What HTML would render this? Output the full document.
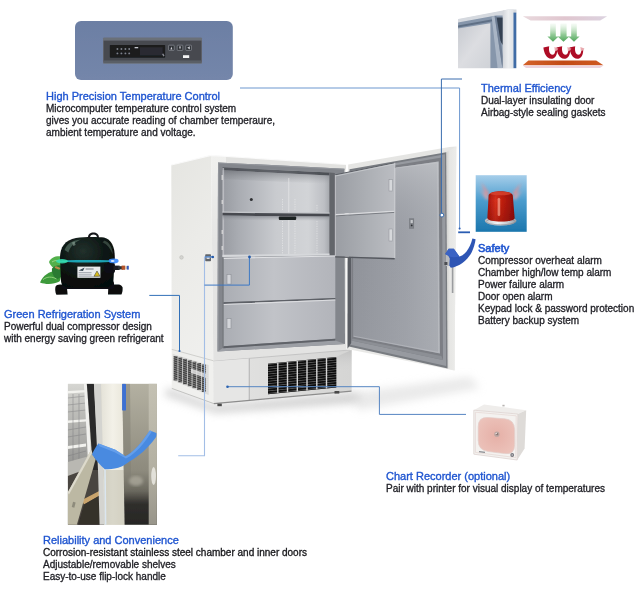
<!DOCTYPE html>
<html>
<head>
<meta charset="utf-8">
<title>Freezer features</title>
<style>
html,body{margin:0;padding:0;background:#fff;}
body{width:640px;height:592px;position:relative;overflow:hidden;font-family:"Liberation Sans",Arial,sans-serif;}
#art{position:absolute;left:0;top:0;width:640px;height:592px;}
.blk{will-change:transform;position:absolute;white-space:nowrap;font-size:10px;line-height:12px;color:#1f1f25;-webkit-text-stroke:0.32px #1f1f25;}
.blk b.sb{-webkit-text-stroke:0.6px #1f55d0;}
.blk b{display:block;font-weight:normal;font-size:11px;line-height:12px;color:#1f55d0;margin-bottom:1px;-webkit-text-stroke:0.35px #1f55d0;}
</style>
</head>
<body>
<svg id="art" width="640" height="592" viewBox="0 0 640 592">
<defs>
<filter id="blur6" x="-20%" y="-50%" width="140%" height="200%"><feGaussianBlur stdDeviation="4"/></filter>
<filter id="soft" x="-5%" y="-5%" width="110%" height="110%"><feGaussianBlur stdDeviation="0.4"/></filter>
<filter id="blur1"><feGaussianBlur stdDeviation="0.6"/></filter>
<filter id="blur2"><feGaussianBlur stdDeviation="1.5"/></filter>
<linearGradient id="gSide" x1="0" y1="0" x2="0.25" y2="1"><stop offset="0" stop-color="#e5e5e1"/><stop offset="0.45" stop-color="#ebebe8"/><stop offset="1" stop-color="#f0f0ee"/></linearGradient>
<linearGradient id="gFront" x1="0" y1="0" x2="0" y2="1"><stop offset="0" stop-color="#f0f0ee"/><stop offset="0.35" stop-color="#e5e5e4"/><stop offset="1" stop-color="#e2e2e1"/></linearGradient>
<linearGradient id="gBase" x1="0" y1="0" x2="1" y2="0"><stop offset="0" stop-color="#e4e4e3"/><stop offset="0.5" stop-color="#dcdcdb"/><stop offset="1" stop-color="#d5d5d4"/></linearGradient>
<linearGradient id="gBack" x1="0" y1="0" x2="1" y2="0"><stop offset="0" stop-color="#989ba1"/><stop offset="0.15" stop-color="#a9acb2"/><stop offset="0.5" stop-color="#c9cbcf"/><stop offset="0.8" stop-color="#d2d4d7"/><stop offset="0.95" stop-color="#bdbfc4"/><stop offset="1" stop-color="#a6a9ae"/></linearGradient>
<linearGradient id="gCeil" x1="0" y1="0" x2="1" y2="0"><stop offset="0" stop-color="#505359"/><stop offset="0.5" stop-color="#5f6268"/><stop offset="1" stop-color="#4c4f55"/></linearGradient>
<linearGradient id="gCeil2" x1="0" y1="0" x2="0" y2="1"><stop offset="0" stop-color="#6e7177" stop-opacity="0.75"/><stop offset="1" stop-color="#9a9da2" stop-opacity="0"/></linearGradient>
<linearGradient id="gUnder" x1="0" y1="0" x2="0" y2="1"><stop offset="0" stop-color="#80838a" stop-opacity="0.8"/><stop offset="1" stop-color="#a0a3a8" stop-opacity="0"/></linearGradient>
<linearGradient id="gDrawer" x1="0" y1="0" x2="1" y2="0"><stop offset="0" stop-color="#aaadb3"/><stop offset="0.45" stop-color="#c1c3c8"/><stop offset="1" stop-color="#b2b4ba"/></linearGradient>
<pattern id="pVent" width="4" height="2.4" patternUnits="userSpaceOnUse" patternTransform="rotate(-5.7)"><rect width="4" height="2.4" fill="#0c0c0c"/><rect y="0" width="4" height="0.7" fill="#8a8a8a"/></pattern>
<pattern id="pSlat" width="4" height="2" patternUnits="userSpaceOnUse" patternTransform="rotate(18.8)"><rect y="0" width="4" height="0.7" fill="#e8e8e8" opacity="0.55"/></pattern>
<linearGradient id="gShell" x1="0" y1="0" x2="0" y2="1"><stop offset="0" stop-color="#e5e5e3"/><stop offset="1" stop-color="#e9e9e7"/></linearGradient>
<linearGradient id="gShellR" x1="0" y1="0" x2="1" y2="0"><stop offset="0" stop-color="#cfcfcd"/><stop offset="0.35" stop-color="#e6e6e4"/><stop offset="1" stop-color="#ececea"/></linearGradient>
<linearGradient id="gPanel" x1="0" y1="0" x2="1" y2="0"><stop offset="0" stop-color="#8f9299"/><stop offset="0.6" stop-color="#9da0a7"/><stop offset="1" stop-color="#abaeb4"/></linearGradient>
<linearGradient id="gPanelV" x1="0" y1="0" x2="0" y2="1"><stop offset="0" stop-color="#c6c8cc" stop-opacity="0.6"/><stop offset="0.4" stop-color="#a0a3a9" stop-opacity="0"/><stop offset="1" stop-color="#a4a7ad" stop-opacity="0.25"/></linearGradient>
<linearGradient id="gInDoor" x1="0" y1="0" x2="1" y2="0"><stop offset="0" stop-color="#9a9da3"/><stop offset="0.6" stop-color="#aeb1b6"/><stop offset="1" stop-color="#bbbdc2"/></linearGradient>
<linearGradient id="gCtrl" x1="0" y1="0" x2="0" y2="1"><stop offset="0" stop-color="#6c7fa4"/><stop offset="1" stop-color="#7486aa"/></linearGradient>
<radialGradient id="gComp" cx="0.42" cy="0.28" r="0.75"><stop offset="0" stop-color="#22312c"/><stop offset="0.5" stop-color="#0f1916"/><stop offset="1" stop-color="#060908"/></radialGradient>
<linearGradient id="gPhotoInt" x1="0" y1="0" x2="0" y2="1"><stop offset="0" stop-color="#d6d6d2"/><stop offset="0.3" stop-color="#bcbcb8"/><stop offset="0.6" stop-color="#a9a9a6"/><stop offset="1" stop-color="#828280"/></linearGradient>
<linearGradient id="gPhotoEdge" x1="0" y1="0" x2="1" y2="0"><stop offset="0" stop-color="#e4e2d8"/><stop offset="0.5" stop-color="#f3f1e8"/><stop offset="1" stop-color="#e9e6da"/></linearGradient>
<linearGradient id="gPhotoDoor" gradientUnits="userSpaceOnUse" x1="0" y1="383" x2="0" y2="525"><stop offset="0" stop-color="#b4b1a2"/><stop offset="0.3" stop-color="#a19e90"/><stop offset="0.62" stop-color="#8d8a7d"/><stop offset="0.76" stop-color="#6b695f"/><stop offset="0.85" stop-color="#302f2c"/><stop offset="1" stop-color="#272624"/></linearGradient>
<linearGradient id="gPhotoStrip" gradientUnits="userSpaceOnUse" x1="0" y1="383" x2="0" y2="525"><stop offset="0" stop-color="#c4c1b3"/><stop offset="0.6" stop-color="#b3b0a2"/><stop offset="1" stop-color="#98958a"/></linearGradient>
<linearGradient id="gPhotoDark" x1="0" y1="0" x2="0.3" y2="1"><stop offset="0" stop-color="#77756a" stop-opacity="0.2"/><stop offset="0.6" stop-color="#46453f" stop-opacity="0.9"/><stop offset="1" stop-color="#2f2f2c"/></linearGradient>
<linearGradient id="gDoorPh" x1="0" y1="0" x2="1" y2="1"><stop offset="0" stop-color="#c6c9cf"/><stop offset="0.5" stop-color="#dcdde1"/><stop offset="1" stop-color="#cfd2d7"/></linearGradient>
<linearGradient id="gDoorPhR" x1="0" y1="0" x2="1" y2="0"><stop offset="0" stop-color="#d3d6db"/><stop offset="0.5" stop-color="#eceef0"/><stop offset="1" stop-color="#dfe2e6"/></linearGradient>
<linearGradient id="gPlateT" x1="0" y1="0" x2="1" y2="0"><stop offset="0" stop-color="#e9d9dd"/><stop offset="0.5" stop-color="#e0c6cf"/><stop offset="1" stop-color="#dcd3e0"/></linearGradient>
<linearGradient id="gPlateB" x1="0" y1="0" x2="1" y2="0"><stop offset="0" stop-color="#d4622a"/><stop offset="0.5" stop-color="#c24a16"/><stop offset="1" stop-color="#cf5a22"/></linearGradient>
<linearGradient id="gArrow" x1="0" y1="0" x2="0" y2="1"><stop offset="0" stop-color="#cfe9cf" stop-opacity="0.2"/><stop offset="0.6" stop-color="#93cb97"/><stop offset="1" stop-color="#4fa65b"/></linearGradient>
<linearGradient id="gAlarmBg" x1="0" y1="0" x2="0" y2="1"><stop offset="0" stop-color="#a6ceea"/><stop offset="0.45" stop-color="#4b9ccd"/><stop offset="1" stop-color="#1b76ad"/></linearGradient>
<linearGradient id="gRed" x1="0" y1="0" x2="1" y2="0"><stop offset="0" stop-color="#a5140c"/><stop offset="0.3" stop-color="#d6301c"/><stop offset="0.55" stop-color="#bf1f0e"/><stop offset="1" stop-color="#8c0d07"/></linearGradient>
<linearGradient id="gSilver" x1="0" y1="0" x2="1" y2="0"><stop offset="0" stop-color="#b9bcc2"/><stop offset="0.4" stop-color="#f4f5f7"/><stop offset="0.7" stop-color="#c9ccd1"/><stop offset="1" stop-color="#9ea2a9"/></linearGradient>
<radialGradient id="gPink" cx="0.5" cy="0.5" r="0.7"><stop offset="0" stop-color="#e6b0a7"/><stop offset="1" stop-color="#edc6be"/></radialGradient>
<linearGradient id="gBaseSh" x1="0" y1="0" x2="0" y2="1"><stop offset="0" stop-color="#bdbdbd" stop-opacity="0.8"/><stop offset="1" stop-color="#d8d8d8" stop-opacity="0"/></linearGradient>
<linearGradient id="gRedV" x1="0" y1="0" x2="0" y2="1"><stop offset="0" stop-color="#7a0a06" stop-opacity="0.25"/><stop offset="0.3" stop-color="#7a0a06" stop-opacity="0"/><stop offset="1" stop-color="#6a0805" stop-opacity="0.3"/></linearGradient>
<!--DEFS-->
</defs>
<!--SHADOW-->
<g id="shadow" filter="url(#blur6)" opacity="0.6">
<polygon points="168,388 214,405 352,392 362,396 356,403 216,413 164,395" fill="#b4b4b4"/>
</g>
<g filter="url(#blur6)" opacity="0.5">
<polygon points="352,393 470,377 480,388 358,410" fill="#d4d4d4"/>
</g>
<g id="body" filter="url(#soft)">
<!-- side panel -->
<polygon points="171.3,165 211,155.3 213.8,403.4 171.8,388.4" fill="url(#gSide)"/>
<!-- front face -->
<polygon points="211,155.3 346,164.5 346.5,349.6 351.5,350 351.5,391 213.8,403.4" fill="url(#gFront)"/>
<polygon points="226,156.4 346,164.5 346,169.2 226,163" fill="#dededc" opacity="0.8"/>
<!-- top highlight -->
<polyline points="171.3,165 211,155.3 346,164.5" fill="none" stroke="#fafafa" stroke-width="1.2"/>
<!-- base -->
<polygon points="213.8,361.3 350,350 351.5,350 351.5,391 213.8,403.4" fill="url(#gBase)"/>
<polyline points="213.8,361.3 350,350" fill="none" stroke="#c4c4c4" stroke-width="1"/>
<polygon points="213.8,361.3 249,358.4 249,400.3 213.8,403.4" fill="#e6e6e5"/>
<line x1="249.3" y1="358.4" x2="249.3" y2="400.7" stroke="#b9b9b9" stroke-width="1.2"/>
<polyline points="171.8,349.4 213.6,360.8" fill="none" stroke="#d0d0cd" stroke-width="1"/>
<polyline points="171.8,388.4 213.8,403.6" fill="none" stroke="#c2c2c0" stroke-width="1"/><polyline points="213.8,403.6 351.5,391.2" fill="none" stroke="#8c8c8c" stroke-width="1.3"/>
<polygon points="337,356.4 351.5,350 351.5,372 337,374" fill="url(#gBaseSh)"/>
<!-- feet -->
<rect x="217.4" y="403.6" width="4.4" height="2.6" fill="#4a4a4a"/>
<rect x="334.5" y="391" width="4.8" height="2.6" fill="#4a4a4a"/>
<!-- front vent -->
<polygon points="268,363.8 336.3,357 336.3,387.5 268,394.3" fill="url(#pVent)"/>
<polygon points="268,363.8 336.3,357 336.3,387.5 268,394.3" fill="#111" opacity="0.35"/>
<g stroke="#d6d6d6" stroke-width="1.4">
<line x1="277.8" y1="362.8" x2="277.8" y2="393.3"/>
<line x1="287.5" y1="361.9" x2="287.5" y2="392.4"/>
<line x1="297.3" y1="360.9" x2="297.3" y2="391.4"/>
<line x1="307" y1="359.9" x2="307" y2="390.4"/>
<line x1="316.8" y1="358.9" x2="316.8" y2="389.4"/>
<line x1="326.5" y1="358" x2="326.5" y2="388.5"/>
</g>
<!-- side vent -->
<polygon points="172.8,354 208.6,365 208.6,395 172.8,380.6" fill="#d9d9d7"/>
<g stroke="#3a3a3a" stroke-width="3.9"><line x1="175.6" y1="356.1" x2="175.6" y2="380.5"/><line x1="180.3" y1="357.5" x2="180.3" y2="382.4"/><line x1="185" y1="358.9" x2="185" y2="384.3"/><line x1="189.7" y1="360.3" x2="189.7" y2="386.2"/><line x1="194.4" y1="361.7" x2="194.4" y2="388.1"/><line x1="199.1" y1="363.1" x2="199.1" y2="390.0"/><line x1="203.8" y1="364.5" x2="203.8" y2="391.9"/></g>
<polygon points="172.8,354 208.6,365 208.6,395 172.8,380.6" fill="url(#pSlat)"/>
<polygon points="191,368.5 206,373.5 206,378 191,373" fill="#e8e8e8" opacity="0.8"/>
<!-- gray frame -->
<polygon points="218,162.4 344.5,168.8 345,344 217.5,351.5" fill="#83868c"/>
<polygon points="218,162.4 344.5,168.8 344.5,169.8 219.2,163.5 218.7,350.4 217.5,351.5" fill="#93969c"/>
<polygon points="222.5,348.2 335.3,340.6 345,344 217.5,351.5" fill="#9c9fa5"/>
<!-- interior -->
<polygon points="222.5,167.2 329.5,172.6 329.5,255.3 222.5,257" fill="url(#gBack)"/>
<polygon points="222.5,167.2 329.5,172.6 329.5,175.4 222.5,170.2" fill="url(#gCeil)"/>
<polygon points="222.5,170.2 329.5,175.4 329.5,184 222.5,179" fill="url(#gCeil2)"/>
<rect x="222.5" y="168" width="1.6" height="89" fill="#c9cbce" opacity="0.7"/>
<polygon points="329.5,172.6 334.8,173 334.8,256 329.5,255.3" fill="#62656b"/>
<!-- back seam + pilasters -->
<line x1="288.8" y1="178" x2="288.8" y2="254" stroke="#eceded" stroke-width="0.8" opacity="0.8"/>
<g stroke="#f0f0f1" stroke-width="0.9" stroke-dasharray="1.2 1.2" opacity="0.6">
<line x1="282.5" y1="199" x2="282.5" y2="211"/><line x1="295" y1="199" x2="295" y2="211"/>
<line x1="282.5" y1="221" x2="282.5" y2="254"/><line x1="295" y1="221" x2="295" y2="254"/>
<line x1="317" y1="205" x2="317" y2="211"/><line x1="317" y1="221" x2="317" y2="254"/>
</g>
<circle cx="251.3" cy="199.6" r="1.5" fill="#2e2f33"/>
<!-- shelf 1 -->
<polygon points="222.5,211.4 329.5,212.6 329.5,213.8 222.5,212.8" fill="#c4c6ca"/>
<polygon points="222.5,212.8 329.5,213.8 329.5,216.6 222.5,215.6" fill="#474a50"/>
<polygon points="222.5,215.6 329.5,216.6 329.5,221 222.5,220" fill="url(#gUnder)"/>
<rect x="278.8" y="216.6" width="17.4" height="3.4" rx="1" fill="#1f2024"/>
<!-- compartment 2 floor lip -->
<polygon points="222.5,254.8 329.5,253.6 329.5,255.3 222.5,257" fill="#d6d8db"/>
<!-- frame clips -->
<g fill="#dcdcdc"><rect x="221.6" y="175" width="1.2" height="5"/><rect x="221.6" y="200" width="1.2" height="4"/><rect x="221.6" y="230" width="1.2" height="4"/><rect x="221.6" y="246" width="1.2" height="4"/></g>
<!-- drawers -->
<polygon points="223.3,257.7 335.3,255.5 335.3,298 223.3,302.3" fill="url(#gDrawer)"/>
<polygon points="223.3,257.7 335.3,255.5 335.3,256.6 223.3,258.9" fill="#dfe0e3"/>
<polygon points="223.3,302.3 335.3,298 335.3,299.6 223.3,304" fill="#5d6066"/>
<polygon points="223.3,304 335.3,299.6 335.3,338.8 223.3,346.2" fill="url(#gDrawer)"/>
<polygon points="223.3,304 335.3,299.6 335.3,300.6 223.3,305.1" fill="#dcdde0"/>
<polygon points="223.3,346.2 335.3,338.8 335.3,340.6 223.3,348.2" fill="#5f6268"/>
<rect x="222.4" y="257.7" width="1.2" height="90" fill="#74777d"/>
<g>
<rect x="227" y="274.5" width="4" height="9.6" fill="#d3d5d9" stroke="#8d9096" stroke-width="0.6"/>
<rect x="227" y="318.6" width="4" height="10" fill="#d3d5d9" stroke="#8d9096" stroke-width="0.6"/>
</g>
<!-- side latch / knob -->
<rect x="205.2" y="254.2" width="5.8" height="7" rx="0.8" fill="#62656b"/>
<rect x="206.6" y="256.6" width="3" height="2.4" fill="#d9dadc"/>
<circle cx="181.5" cy="257.4" r="1.8" fill="#d4d4d1" stroke="#bdbdb9" stroke-width="0.6"/>
</g>
<!--BODY-->
<g id="door" filter="url(#soft)">
<!-- outer shell -->
<polygon points="348.2,164.6 449.5,147 456.3,146.6 454.6,370.4 347.3,349" fill="url(#gShell)"/>
<polygon points="446.2,152.3 456.3,146.6 454.6,370.4 447.6,368.4" fill="url(#gShellR)"/>
<!-- gasket -->
<polygon points="349.5,169.3 446.2,152.3 447.6,368.4 348.8,346.6" fill="#787b81"/>
<polygon points="350.8,170.9 445,154.2 446.2,366 350.2,344.8" fill="#979aa0"/>
<polygon points="352,172.5 441.8,157.6 443,360 351.6,340.6" fill="#7b7e84"/>
<polygon points="352.6,338.6 441.4,356 443,360 351.6,340.6" fill="#8c8f95"/>
<!-- inner panel -->
<polygon points="353,174 438.6,161.5 440,353.4 353.2,336.8" fill="url(#gPanel)"/>
<polygon points="353,174 438.6,161.5 440,353.4 353.2,336.8" fill="url(#gPanelV)"/>
<polyline points="396,167.8 437.6,162.8 438.8,352" fill="none" stroke="#c5c7cb" stroke-width="0.8" opacity="0.7"/>
<polyline points="353.6,336.2 439.6,352.6" fill="none" stroke="#bfc1c5" stroke-width="0.8" opacity="0.7"/>
<!-- hinge-side dark strip -->
<polygon points="347.6,258 351.2,258 351.2,343 347.5,348.8" fill="#5a5d63"/>
<!-- latch on panel -->
<rect x="409.6" y="218.8" width="4.2" height="9.4" fill="#82858b" stroke="#6b6e74" stroke-width="0.5"/>
<rect x="410.6" y="220" width="2.2" height="3" fill="#c4c6ca"/>
<circle cx="411.7" cy="225.4" r="0.9" fill="#2c2d30"/>
<!-- inner doors -->
<polygon points="335.2,174.8 394.6,162.8 394.6,210.6 335.2,213.9" fill="url(#gInDoor)"/>
<polyline points="335.2,174.8 394.6,162.8" fill="none" stroke="#5e6167" stroke-width="1"/>
<polyline points="335.4,176 394.4,164" fill="none" stroke="#cfd1d4" stroke-width="0.7"/>
<polygon points="335.2,213.9 394.6,210.6 394.6,212.4 335.2,215.9" fill="#d9dadd"/>
<polygon points="335.2,215.9 394.6,212.4 394.6,258 335.2,256.3" fill="url(#gInDoor)"/>
<polyline points="335.2,215.9 394.6,212.4" fill="none" stroke="#6a6d73" stroke-width="0.8"/>
<line x1="394.8" y1="162.8" x2="394.8" y2="258" stroke="#d5d6d9" stroke-width="0.9"/>
<line x1="335.4" y1="175" x2="335.4" y2="256" stroke="#c6c8cc" stroke-width="0.8"/>
<rect x="389" y="179.6" width="3.6" height="11.4" fill="#d6d8db" stroke="#8e9197" stroke-width="0.5"/>
<rect x="389" y="229" width="3.6" height="12" fill="#d6d8db" stroke="#8e9197" stroke-width="0.5"/>
<polygon points="335.2,256.3 394.6,258 394.6,259.4 335.2,257.6" fill="#55585e"/>
<!-- handle bar -->
<rect x="451.8" y="262" width="1.6" height="31" fill="#9a9c9f"/>
<rect x="445.8" y="254.5" width="4.4" height="11.5" fill="#b9bbbe"/>
<rect x="444.4" y="262" width="3" height="3" fill="#4c4e52"/>
<!-- blue handle -->
<path d="M472.4,238.4 L475.6,239.2 C475.2,243 473.6,248.4 471.6,252.4 C469.4,256.6 465.6,260.6 462.4,263 C459,265.4 455,267.2 450.8,267.8 L449.3,265.5 L449.8,258.4 L448.2,255.6 L445.2,253.9 L448.7,248.8 L453.8,248.8 L459.4,256.4 C461.4,256.4 464,254.2 466.5,251.4 C469,248.2 471.2,243.4 472.4,238.4 Z" fill="#2f55b4"/>
<path d="M448.7,248.8 L453.8,248.8 L459.4,256.4 C456.4,257.4 452.6,257.4 449.8,256.8 L445.2,253.9 Z" fill="#3b64c4"/>
</g>
<!--DOOR-->
<g id="ctrl" filter="url(#soft)">
<rect x="75" y="21" width="157.8" height="59.1" rx="6" fill="url(#gCtrl)"/>
<rect x="103" y="37.6" width="99" height="26.2" rx="1" fill="#6b6f78"/>
<rect x="103.6" y="40.6" width="97.8" height="21" fill="#464950"/>
<rect x="103.6" y="60.4" width="97.8" height="2.6" fill="#5a5e66"/>
<rect x="109.8" y="45" width="55.4" height="12.8" rx="0.8" fill="#1a1b1f"/>
<g fill="#7f828a"><circle cx="117.4" cy="49" r="0.95"/><circle cx="121.4" cy="49" r="0.95"/><circle cx="125.4" cy="49" r="0.95"/><circle cx="129.2" cy="49" r="0.95"/><circle cx="117.4" cy="53.4" r="0.95"/><circle cx="121.4" cy="53.4" r="0.95"/><circle cx="125.4" cy="53.4" r="0.95"/><circle cx="129.2" cy="53.4" r="0.95"/></g>
<rect x="134.6" y="47" width="3.6" height="1.3" fill="#c4c6cb"/>
<rect x="140" y="47.2" width="22.6" height="8.2" fill="#292b30"/>
<rect x="162.6" y="53.6" width="1.4" height="2.6" fill="#8e9097" transform="rotate(-30 163.3 54.9)"/>
<g fill="#2e3036" stroke="#9a9da4" stroke-width="0.6"><rect x="168.6" y="45.2" width="5.6" height="5.2" rx="0.6"/><rect x="177.2" y="45.2" width="5.6" height="5.2" rx="0.6"/><rect x="185.8" y="45.2" width="5.6" height="5.2" rx="0.6"/></g>
<g fill="#d0d2d7"><path d="M170.4,49.4 L171.4,46.4 L172.4,49.4 Z"/><path d="M179,46.6 L181,46.6 L180,49.4 Z"/><path d="M187.2,47.8 L189.8,46.2 L189.8,49.4 Z"/></g>
<rect x="183" y="55.2" width="6.2" height="2.8" fill="#f4f4f4"/>
</g>
<g id="compressor" filter="url(#soft)">
<!-- leaves -->
<g filter="url(#blur1)">
<path d="M40,282.6 C43,275 49,271.4 57,270.4 C61,272 62,277 59.4,281.6 C54,284.6 46,284.8 40,282.6 Z" fill="#3c9a3a"/>
<path d="M49,262 C51,257.4 56,255.6 62,256.6 C65.4,260 64.6,266 60.6,270 C55.6,270 50.6,267 49,262 Z" fill="#52b04c"/>
<path d="M52,268.6 C56,264.4 61,264.4 65,267.4 C65.4,273 61.4,278 56.4,279.4 C53.4,276.4 51.4,272.4 52,268.6 Z" fill="#2b7a30"/>
<path d="M43,279.6 C47,276.4 52,276.4 56.6,279" stroke="#a5dc8c" stroke-width="0.8" fill="none"/>
<path d="M52,262 C55,260 58.4,260 61.4,262" stroke="#b6e6a0" stroke-width="0.7" fill="none"/>
<rect x="55" y="266.6" width="5.4" height="2.2" rx="1" fill="#b98a4a" transform="rotate(20 57 267)"/>
</g>
<!-- feet/base -->
<path d="M55.4,287 C56,285.4 58,284.6 60,284.6 L66.6,284.6 L67.6,294.6 L56.4,294.8 C55.2,292.6 55,289.6 55.4,287 Z" fill="#0c0e10"/>
<path d="M108.4,284.4 L118.4,284.4 C120.6,284.6 122.2,285.8 122.6,287.6 C122.8,290 122.4,292.6 121.4,294.6 L108,294.4 Z" fill="#0c0e10"/>
<rect x="62" y="281" width="52" height="8" rx="2" fill="#0f1113"/>
<!-- body -->
<path d="M60,258 C60,247 65,240 76,238 C84,236.8 98,236.8 104,237.6 C111.4,239.4 115,247 114.8,258 L113.4,281 C113,285.4 110,287.6 104,287.6 L70,287.6 C64,287.6 61.4,285.4 61,281 Z" fill="url(#gComp)"/>
<path d="M64.6,250 C67,243.6 72.6,240.4 81,239.6 C75,242.4 70.4,246 68.4,252.6 Z" fill="#4f6a5e" opacity="0.75"/>
<path d="M104.6,240.6 C109.6,242.6 112.4,247.6 112.8,254.6 C110.4,248.6 107.4,244.6 102.6,242.2 Z" fill="#46584f" opacity="0.7"/>
<path d="M72,242.6 L74.6,241.4 L75.6,245 L73.4,246 Z" fill="#8fa59a" opacity="0.6"/>
<!-- lug -->
<path d="M88,238 C88,234 90.4,232.6 93.4,232.6 C96.4,232.6 99,234 99,238 L97,238 C97,235.4 95.6,234.6 93.4,234.6 C91.4,234.6 90,235.4 90,238 Z" fill="#16181a"/>
<!-- glow band -->
<ellipse cx="88" cy="261.2" rx="30" ry="1.3" fill="#22cfe6" opacity="0.75" filter="url(#blur1)"/>
<ellipse cx="62" cy="261.2" rx="6" ry="2.2" fill="#35e2b2" opacity="0.85" filter="url(#blur1)"/>
<ellipse cx="113.6" cy="261" rx="5" ry="2.4" fill="#3c8cff" opacity="0.9" filter="url(#blur1)"/>
<ellipse cx="112.6" cy="261" rx="2" ry="1" fill="#e8f4ff" opacity="0.9" filter="url(#blur1)"/>
<!-- label -->
<rect x="77.4" y="266.6" width="23" height="11.2" fill="#e9ebed"/>
<path d="M78.6,270.6 L84.6,267.6 L83,271 Z" fill="#3a4a56"/>
<rect x="85.6" y="268.4" width="8" height="1.2" fill="#8a9099"/><rect x="78.6" y="272.2" width="13" height="1" fill="#9aa0a7"/><rect x="78.6" y="274.4" width="13" height="1" fill="#9aa0a7"/><rect x="78.6" y="276" width="20" height="0.8" fill="#b0b5bb"/>
<path d="M94,276.2 L97,271 L100,276.2 Z" fill="#d8bc1e" stroke="#333" stroke-width="0.5"/>
<!-- pipes -->
<rect x="104" y="263.6" width="11" height="9.4" rx="2" fill="#0f1012"/>
<rect x="113.6" y="265.6" width="6" height="4.4" fill="#1d1f22"/>
<rect x="118" y="266.2" width="5" height="3.2" fill="#2b2d31"/>
<rect x="121.6" y="265.6" width="3.6" height="4.2" fill="#b4532c"/>
<rect x="125" y="266.2" width="2" height="3" fill="#d8c4b0"/>
<rect x="126.8" y="265.8" width="2" height="3.8" fill="#3458b8"/>
</g>
<g id="photo" filter="url(#soft)">
<clipPath id="cpPhoto"><rect x="67.8" y="383.8" width="89.1" height="141"/></clipPath>
<g clip-path="url(#cpPhoto)">
<rect x="67.7" y="383.6" width="89.3" height="141.3" fill="#cfcdc4"/>
<!-- interior left -->
<rect x="67.7" y="383.6" width="20" height="100" fill="url(#gPhotoInt)"/>
<g fill="#f2f2ee"><polygon points="67.7,391 86,390 86,392.2 67.7,393.4"/><polygon points="67.7,420.6 86,419.2 86,421.6 67.7,423"/><polygon points="67.7,446 86,443.6 86,446.6 67.7,449"/></g>
<g stroke="#77777a" stroke-width="0.7" opacity="0.6"><line x1="67.7" y1="398" x2="86" y2="396"/><line x1="67.7" y1="405" x2="86" y2="403"/><line x1="67.7" y1="412" x2="86" y2="410"/><line x1="67.7" y1="430" x2="86" y2="427"/><line x1="67.7" y1="437" x2="86" y2="434"/><line x1="67.7" y1="456" x2="86" y2="451"/><line x1="67.7" y1="464" x2="86" y2="458"/><line x1="73" y1="394" x2="73" y2="470"/><line x1="79" y1="394" x2="79" y2="465"/></g>
<polygon points="83.9,383.6 87.4,383.6 91.6,470 88.6,470" fill="#f1f1ee"/>
<!-- floor / pallets -->
<polygon points="67.7,462 104,452 104,525 67.7,525" fill="#b9b8b2"/>
<polygon points="67.7,476 100,464 104,470 104,525 67.7,525" fill="#4a453f"/>
<polygon points="82,500 104,488.4 104,493 84,504.4" fill="#c9a46c"/>
<polygon points="84,504.4 104,493 104,525 78,525" fill="#34302c"/>
<!-- dark strip & gray -->
<polygon points="86.8,383.6 93.9,383.6 99,470 93,470" fill="#2c2c2c"/>
<polygon points="93.9,383.6 101,383.6 105.4,525 99.6,525 98,470" fill="#d4d4d0"/>
<!-- cream edge band -->
<polygon points="101,383.6 122.2,383.6 124.6,525 104.6,525" fill="url(#gPhotoEdge)"/>
<polygon points="103.6,470 124.2,470 124.6,525 104.6,525" fill="#b9b6a4" opacity="0.45"/>
<polygon points="104.2,470 105.8,470 106.4,525 104.8,525" fill="#dbe6f0"/>
<!-- door surface right -->
<polygon points="122.2,383.6 157,383.6 157,525 124.6,525" fill="url(#gPhotoDoor)"/>
<polygon points="122.2,383.6 130,383.6 131,480 124.2,480" fill="#7f7d72" opacity="0.45"/>
<polygon points="148.7,383.6 157,383.6 157,525 148.7,525" fill="url(#gPhotoStrip)"/>
<ellipse cx="153.6" cy="476" rx="2.4" ry="9" fill="#efeee8" opacity="0.8" filter="url(#blur1)"/>
<ellipse cx="136" cy="481" rx="7" ry="5" fill="#b9b6a8" opacity="0.6" filter="url(#blur2)"/>
<!-- blue strip -->
<rect x="122.1" y="383.6" width="3.9" height="27" rx="1.2" fill="#3e6fd2"/>
<!-- beige panel -->
<polygon points="91,450 95.6,459.4 76.8,525 67.7,525 67.7,492.4" fill="#bcb8a3"/>
<polygon points="67.7,492.4 91,450 92.2,452.4 69,494.6" fill="#dddacc"/>
<rect x="72.4" y="502" width="2.6" height="5.4" fill="#8e8b7c" transform="rotate(14 73.7 504.7)"/>
<!-- blue handle -->
<path d="M98.4,443.4 L115.4,449.8 L125.4,456.2 C134,452 142.6,441.4 149.8,430.4 L156.4,433 C156.8,435.4 156.2,437.4 155,438.6 C146.6,449.4 138.6,456.6 129.4,461.6 C126.6,463.6 124.4,465.4 121.6,466.6 C116,469 110.6,469.6 104.8,469.2 C100.2,465.4 95.4,459.6 92,454.6 C93.6,450.4 95.8,446.4 98.4,443.4 Z" fill="#4a8ae0"/>
<path d="M98.4,443.4 L115.4,449.8 L125.4,456.2 C134,452 142.6,441.4 149.8,430.4 L152,431.2 C144.6,443 136,453.6 126,458.4 L114.6,452.2 L99.4,446.2 Z" fill="#69a2ee" opacity="0.8"/>
</g>
</g>
<g id="doorphoto" filter="url(#soft)">
<clipPath id="cpDoor"><polygon points="458.1,19 508,9.5 516.5,9.5 516.5,68.2 458.1,68.2"/></clipPath>
<g clip-path="url(#cpDoor)">
<rect x="458" y="9" width="59" height="60" fill="#e2e4e8"/>
<polygon points="458,19 508,9.5 516.5,9.5 516.5,14 458,24" fill="#d5d9df"/>
<polygon points="458,22.4 496,15.6 502.8,15.6 502.8,68.2 490,68.2 490,24 458,29.4" fill="#8696ab"/>
<polygon points="458,25.4 494,19 494,21 458,27.4" fill="#5f6f85"/>
<polygon points="458,28.6 490.4,23.2 490.4,68.2 458,68.2" fill="url(#gDoorPh)"/>
<polygon points="496,17.6 502.8,17.6 502.8,45 499.6,40" fill="#364253"/>
<polygon points="491.6,16.4 494.6,16 502.4,68.2 497.6,68.2" fill="#a9b5c5"/>
<polygon points="494.6,16 496.4,16 503.6,60 502.4,68.2" fill="#6f7f95"/>
<rect x="502.8" y="9" width="10.8" height="60" fill="url(#gDoorPhR)"/>
<rect x="513.5" y="12.6" width="3" height="56" fill="#3f6ca6"/>
</g>
</g>
<g id="airflow" filter="url(#soft)">
<polygon points="522.8,16.2 607.2,16.2 600.2,20.6 530.6,20.6" fill="url(#gPlateT)"/>
<g>
<polygon points="550.2,23.6 555.8,23.6 555.8,36.4 558.6,36.4 553,41.8 547.4,36.4 550.2,36.4" fill="url(#gArrow)"/>
<polygon points="560.4,23.6 566.6,23.6 566.6,36.4 569.4,36.4 563.5,41.8 557.6,36.4 560.4,36.4" fill="url(#gArrow)"/>
<polygon points="571.2,23.6 576.8,23.6 576.8,36.4 579.6,36.4 574,41.8 568.4,36.4 571.2,36.4" fill="url(#gArrow)"/>
</g>
<g fill="#ae0e26"><path d="M543.4,47.6 L549.2,46.2 C548.4,51 549.8,54.6 552.4,54.8 C554.0,54.8 555.0,53 555.4,50.4 L557.2,50 C557.2,55.6 554.8,58.8 551.2,58.8 C546.8,58.8 544.0,53.6 543.4,47.6 Z"/><path d="M556.4,47.6 L562.2,46.2 C561.4,51 562.8,54.6 565.4,54.8 C567.0,54.8 568.0,53 568.4,50.4 L570.2,50 C570.2,55.6 567.8,58.8 564.2,58.8 C559.8,58.8 557.0,53.6 556.4,47.6 Z"/><path d="M569.4,47.6 L575.2,46.2 C574.4,51 575.8,54.6 578.4,54.8 C580.0,54.8 581.0,53 581.4,50.4 L583.2,50 C583.2,55.6 580.8,58.8 577.2,58.8 C572.8,58.8 570.0,53.6 569.4,47.6 Z"/></g>
<g fill="#e59aa0" opacity="0.85"><path d="M554.8,50.8 L554.4,47 L558.4,48.4 L557.4,50.4 Z"/><path d="M567.8,50.8 L567.4,47 L571.4,48.4 L570.4,50.4 Z"/><path d="M580.8,50.8 L580.4,47 L584.4,48.4 L583.4,50.4 Z"/></g>
<polygon points="528.4,60.4 596.2,60.4 603.4,65.2 522.8,65.2" fill="url(#gPlateB)"/>
<polygon points="522.8,65.4 603.4,65.4 600,68 526,68" fill="#e7c9d6" opacity="0.8"/>
</g>
<g id="alarm" filter="url(#soft)">
<rect x="475.7" y="175.2" width="51" height="56.6" fill="url(#gAlarmBg)"/>
<g filter="url(#blur2)" opacity="0.85">
<polygon points="489.6,194 481,182 486,196" fill="#f08f8f"/>
<polygon points="489,198 479.6,189 486.4,200" fill="#f3a6a6"/>
<polygon points="512,194 521,183 515.6,196" fill="#f08f8f"/>
<polygon points="512.6,198 522,190.6 515.4,200" fill="#f3a6a6"/>
</g>
<ellipse cx="500.6" cy="220.8" rx="15.8" ry="4.8" fill="url(#gSilver)"/>
<ellipse cx="500.6" cy="221.6" rx="14.6" ry="3.2" fill="none" stroke="#6e7078" stroke-width="0.7" opacity="0.7"/>
<path d="M487.4,218 L488.6,195.6 C488.8,189.8 512.6,189.8 512.8,195.6 L514.6,218 C514.6,222.8 487.4,222.8 487.4,218 Z" fill="url(#gRed)"/>
<path d="M487.4,218 L488.6,195.6 C488.8,189.8 512.6,189.8 512.8,195.6 L514.6,218 C514.6,222.8 487.4,222.8 487.4,218 Z" fill="url(#gRedV)"/>
<ellipse cx="500.7" cy="193.4" rx="10.6" ry="1.8" fill="#d8432f" opacity="0.8"/>
<rect x="497.6" y="198" width="2.6" height="18" rx="1.3" fill="#ffb9a6" opacity="0.6" filter="url(#blur1)"/>
</g>
<g id="recorder" filter="url(#soft)">
<polygon points="473.8,410.2 484,404.6 526.2,410.2 517.8,414" fill="#efedeb"/>
<polygon points="517.8,414 526.2,410.2 524.6,448.4 517.2,460" fill="#dedbd8"/>
<polygon points="473.8,410.2 517.8,414 517.2,460 473.8,454.2" fill="#f4f2f0" stroke="#ddd3d0" stroke-width="0.8"/>
<polygon points="475.4,412.2 516.2,415.8 515.8,457.6 475.4,452.4" fill="none" stroke="#e6d9d6" stroke-width="0.8"/>
<path d="M478.2,426.7 Q478.2,416.7 488.2,417.5 L504.6,418.8 Q514.6,419.6 514.6,429.6 L514.6,444.9 Q514.6,454.9 504.7,453.6 L488.1,451.5 Q478.2,450.2 478.2,440.2 Z" fill="url(#gPink)" stroke="#e3cdc8" stroke-width="0.7"/>
<circle cx="496.9" cy="434.2" r="2.6" fill="#b9a5a1"/>
<circle cx="497.2" cy="434.2" r="1.1" fill="#8a7673"/>
<circle cx="496.2" cy="433.4" r="0.7" fill="#f4ecea"/>
<circle cx="512.2" cy="455" r="1.9" fill="#74747a"/>
<circle cx="512.2" cy="455" r="0.8" fill="#d0d0d4"/>
<rect x="479" y="451.4" width="6" height="1.3" fill="#8a8d92" transform="rotate(7 482 452)"/>
<rect x="502.4" y="404.8" width="2.2" height="1.6" fill="#b7b4b1"/>
</g>
<!--THUMBS-->
<g id="lines" fill="none" stroke-width="1">
<polyline points="240,88 459.6,88 459.6,229.4" stroke="#6c97cf"/>
<line x1="458.2" y1="232.3" x2="470" y2="232.3" stroke="#2a5db2" stroke-width="1.8"/>
<circle cx="459.6" cy="228.6" r="1" fill="#2a5db2" stroke="none"/>
<polyline points="462,79 441.4,79 441.4,213" stroke="#3a6dae"/>
<circle cx="441.9" cy="215.1" r="1.9" fill="#fff" stroke="#3a6dae" stroke-width="1"/>
<polyline points="149.3,295.4 179.5,295.4 179.5,350.6" stroke="#3270b8"/>
<circle cx="179.5" cy="351" r="1.1" fill="#2a62b0" stroke="none"/>
<polyline points="212.8,257 204.5,257 204.5,455.8 178.2,455.8" stroke="#a3bee6" stroke-width="1.1"/>
<line x1="205" y1="256.9" x2="212.8" y2="256.9" stroke="#3d78c4"/>
<polyline points="249.4,257 249.4,285.1 204.5,285.1" stroke="#3d78c4"/>
<circle cx="212.8" cy="257" r="1.3" fill="#2459a8" stroke="none"/>
<circle cx="249.5" cy="257" r="1.4" fill="#2459a8" stroke="none"/>
<polyline points="227.5,386.7 379.4,386.7 379.4,414.4 466,414.4" stroke="#5585c2"/>
<circle cx="227.5" cy="386.8" r="1.3" fill="#2a62b0" stroke="none"/>
</g>
<!--LINES-->
</svg>
<div class="blk" style="left:45.5px;top:90px;"><b>High Precision Temperature Control</b>Microcomputer temperature control system<br>gives you accurate reading of chamber temperaure,<br>ambient temperature and voltage.</div>
<div class="blk" style="left:481px;top:82px;"><b>Thermal Efficiency</b>Dual-layer insulating door<br>Airbag-style sealing gaskets</div>
<div class="blk" style="left:478px;top:242px;"><b class="sb">Safety</b>Compressor overheat alarm<br>Chamber high/low temp alarm<br>Power failure alarm<br>Door open alarm<br>Keypad lock &amp; password protection<br>Battery backup system</div>
<div class="blk" style="left:4px;top:308px;"><b>Green Refrigeration System</b>Powerful dual compressor design<br>with energy saving green refrigerant</div>
<div class="blk" style="left:43px;top:534px;"><b>Reliability and Convenience</b><span style="color:#111">Corrosion-resistant stainless steel chamber and inner doors</span><br>Adjustable/removable shelves<br>Easy-to-use flip-lock handle</div>
<div class="blk" style="left:386.4px;top:470px;"><b>Chart Recorder (optional)</b>Pair with printer for visual display of temperatures</div>
</body>
</html>
